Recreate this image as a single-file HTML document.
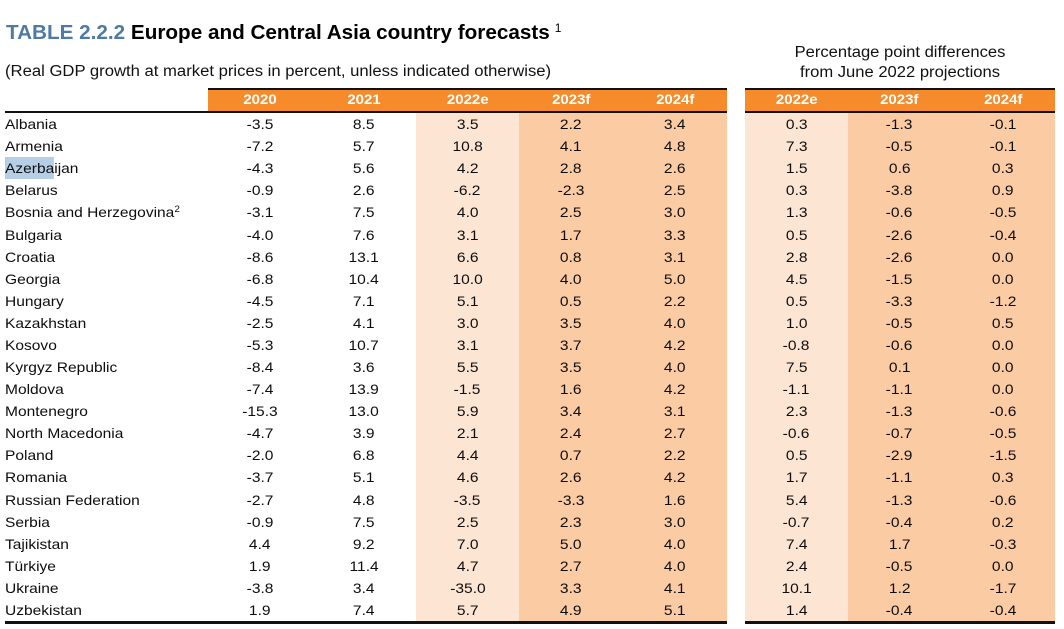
<!DOCTYPE html>
<html><head><meta charset="utf-8">
<style>
*{margin:0;padding:0;box-sizing:border-box}
html,body{width:1064px;height:629px;background:#fff;overflow:hidden;position:relative;font-family:"Liberation Sans",Arial,sans-serif;color:#111}
.abs{position:absolute}
.title{left:6px;top:21px;font-size:20.7px;font-weight:bold;white-space:nowrap;color:#000}
.title .b{color:#4f7aa2}
.title sup{font-size:12px;font-weight:normal;vertical-align:0;position:relative;top:-7px;margin-left:5px}
.sub{left:5px;top:63px;font-size:15.5px;white-space:nowrap;color:#111;transform:scaleX(1.075);transform-origin:left center}
.rh{left:745px;width:310px;text-align:center;font-size:15.5px;white-space:nowrap;color:#111;transform:scaleX(1.07);transform-origin:center center}
.bg{position:absolute}
.row{position:absolute;left:0;width:1064px;height:22px}
.c{position:absolute;top:0;height:22px;line-height:22px;text-align:center;font-size:14px;white-space:nowrap;color:#0d0d0d}
.c span,.h span,.n span{display:inline-block;transform:scaleX(1.11)}
.n{position:absolute;left:5px;top:0;height:22px;line-height:22px;font-size:14px;white-space:nowrap;color:#0d0d0d}
.n span{transform-origin:left center}
.h{position:absolute;top:89px;height:22px;line-height:22px;text-align:center;font-size:13.5px;font-weight:bold;color:#fff}
.hl{background:#b7cfe6}
.n sup{font-size:9px;vertical-align:0;position:relative;top:-5px}
.a{left:208px;width:104px}.b1{left:312px;width:104px}.d{left:416px;width:103px}.e{left:519px;width:104px}.f{left:623px;width:104px}
.g{left:745px;width:103px}.k{left:848px;width:103px}.m{left:951px;width:104px}
</style></head><body>
<div class="abs title"><span class="b">TABLE 2.2.2</span> Europe and Central Asia country forecasts<sup>1</sup></div>
<div class="abs sub">(Real GDP growth at market prices in percent, unless indicated otherwise)</div>
<div class="abs rh" style="top:44px">Percentage point differences</div>
<div class="abs rh" style="top:64px">from June 2022 projections</div>

<div class="bg" style="left:416px;top:113px;width:103px;height:508px;background:#fde5d3"></div>
<div class="bg" style="left:519px;top:113px;width:208px;height:508px;background:#fbcba3"></div>
<div class="bg" style="left:745px;top:113px;width:103px;height:508px;background:#fde5d3"></div>
<div class="bg" style="left:848px;top:113px;width:207px;height:508px;background:#fbcba3"></div>

<div class="bg" style="left:208px;top:89px;width:519px;height:22px;background:#f68b2c"></div>
<div class="bg" style="left:745px;top:89px;width:310px;height:22px;background:#f68b2c"></div>
<div class="bg" style="left:208px;top:87.5px;width:519px;height:2px;background:#111"></div>
<div class="bg" style="left:745px;top:87.5px;width:310px;height:2px;background:#111"></div>
<div class="bg" style="left:5px;top:111px;width:722px;height:2px;background:#111"></div>
<div class="bg" style="left:745px;top:111px;width:310px;height:2px;background:#111"></div>
<div class="bg" style="left:5px;top:620.5px;width:722px;height:3px;background:#111"></div>
<div class="bg" style="left:745px;top:620.5px;width:310px;height:3px;background:#111"></div>

<div class="h a"><span>2020</span></div>
<div class="h b1"><span>2021</span></div>
<div class="h d"><span>2022e</span></div>
<div class="h e"><span>2023f</span></div>
<div class="h f"><span>2024f</span></div>
<div class="h g"><span>2022e</span></div>
<div class="h k"><span>2023f</span></div>
<div class="h m"><span>2024f</span></div>

<div class="row" style="top:113.0px"><div class="n"><span>Albania</span></div><div class="c a"><span>-3.5</span></div><div class="c b1"><span>8.5</span></div><div class="c d"><span>3.5</span></div><div class="c e"><span>2.2</span></div><div class="c f"><span>3.4</span></div><div class="c g"><span>0.3</span></div><div class="c k"><span>-1.3</span></div><div class="c m"><span>-0.1</span></div></div>
<div class="row" style="top:135.1px"><div class="n"><span>Armenia</span></div><div class="c a"><span>-7.2</span></div><div class="c b1"><span>5.7</span></div><div class="c d"><span>10.8</span></div><div class="c e"><span>4.1</span></div><div class="c f"><span>4.8</span></div><div class="c g"><span>7.3</span></div><div class="c k"><span>-0.5</span></div><div class="c m"><span>-0.1</span></div></div>
<div class="row" style="top:157.2px"><div class="n"><span><span class="hl" style="transform:none">Azerba</span>ijan</span></div><div class="c a"><span>-4.3</span></div><div class="c b1"><span>5.6</span></div><div class="c d"><span>4.2</span></div><div class="c e"><span>2.8</span></div><div class="c f"><span>2.6</span></div><div class="c g"><span>1.5</span></div><div class="c k"><span>0.6</span></div><div class="c m"><span>0.3</span></div></div>
<div class="row" style="top:179.3px"><div class="n"><span>Belarus</span></div><div class="c a"><span>-0.9</span></div><div class="c b1"><span>2.6</span></div><div class="c d"><span>-6.2</span></div><div class="c e"><span>-2.3</span></div><div class="c f"><span>2.5</span></div><div class="c g"><span>0.3</span></div><div class="c k"><span>-3.8</span></div><div class="c m"><span>0.9</span></div></div>
<div class="row" style="top:201.4px"><div class="n"><span>Bosnia and Herzegovina<sup>2</sup></span></div><div class="c a"><span>-3.1</span></div><div class="c b1"><span>7.5</span></div><div class="c d"><span>4.0</span></div><div class="c e"><span>2.5</span></div><div class="c f"><span>3.0</span></div><div class="c g"><span>1.3</span></div><div class="c k"><span>-0.6</span></div><div class="c m"><span>-0.5</span></div></div>
<div class="row" style="top:223.5px"><div class="n"><span>Bulgaria</span></div><div class="c a"><span>-4.0</span></div><div class="c b1"><span>7.6</span></div><div class="c d"><span>3.1</span></div><div class="c e"><span>1.7</span></div><div class="c f"><span>3.3</span></div><div class="c g"><span>0.5</span></div><div class="c k"><span>-2.6</span></div><div class="c m"><span>-0.4</span></div></div>
<div class="row" style="top:245.5px"><div class="n"><span>Croatia</span></div><div class="c a"><span>-8.6</span></div><div class="c b1"><span>13.1</span></div><div class="c d"><span>6.6</span></div><div class="c e"><span>0.8</span></div><div class="c f"><span>3.1</span></div><div class="c g"><span>2.8</span></div><div class="c k"><span>-2.6</span></div><div class="c m"><span>0.0</span></div></div>
<div class="row" style="top:267.6px"><div class="n"><span>Georgia</span></div><div class="c a"><span>-6.8</span></div><div class="c b1"><span>10.4</span></div><div class="c d"><span>10.0</span></div><div class="c e"><span>4.0</span></div><div class="c f"><span>5.0</span></div><div class="c g"><span>4.5</span></div><div class="c k"><span>-1.5</span></div><div class="c m"><span>0.0</span></div></div>
<div class="row" style="top:289.7px"><div class="n"><span>Hungary</span></div><div class="c a"><span>-4.5</span></div><div class="c b1"><span>7.1</span></div><div class="c d"><span>5.1</span></div><div class="c e"><span>0.5</span></div><div class="c f"><span>2.2</span></div><div class="c g"><span>0.5</span></div><div class="c k"><span>-3.3</span></div><div class="c m"><span>-1.2</span></div></div>
<div class="row" style="top:311.8px"><div class="n"><span>Kazakhstan</span></div><div class="c a"><span>-2.5</span></div><div class="c b1"><span>4.1</span></div><div class="c d"><span>3.0</span></div><div class="c e"><span>3.5</span></div><div class="c f"><span>4.0</span></div><div class="c g"><span>1.0</span></div><div class="c k"><span>-0.5</span></div><div class="c m"><span>0.5</span></div></div>
<div class="row" style="top:333.9px"><div class="n"><span>Kosovo</span></div><div class="c a"><span>-5.3</span></div><div class="c b1"><span>10.7</span></div><div class="c d"><span>3.1</span></div><div class="c e"><span>3.7</span></div><div class="c f"><span>4.2</span></div><div class="c g"><span>-0.8</span></div><div class="c k"><span>-0.6</span></div><div class="c m"><span>0.0</span></div></div>
<div class="row" style="top:356.0px"><div class="n"><span>Kyrgyz Republic</span></div><div class="c a"><span>-8.4</span></div><div class="c b1"><span>3.6</span></div><div class="c d"><span>5.5</span></div><div class="c e"><span>3.5</span></div><div class="c f"><span>4.0</span></div><div class="c g"><span>7.5</span></div><div class="c k"><span>0.1</span></div><div class="c m"><span>0.0</span></div></div>
<div class="row" style="top:378.1px"><div class="n"><span>Moldova</span></div><div class="c a"><span>-7.4</span></div><div class="c b1"><span>13.9</span></div><div class="c d"><span>-1.5</span></div><div class="c e"><span>1.6</span></div><div class="c f"><span>4.2</span></div><div class="c g"><span>-1.1</span></div><div class="c k"><span>-1.1</span></div><div class="c m"><span>0.0</span></div></div>
<div class="row" style="top:400.2px"><div class="n"><span>Montenegro</span></div><div class="c a"><span>-15.3</span></div><div class="c b1"><span>13.0</span></div><div class="c d"><span>5.9</span></div><div class="c e"><span>3.4</span></div><div class="c f"><span>3.1</span></div><div class="c g"><span>2.3</span></div><div class="c k"><span>-1.3</span></div><div class="c m"><span>-0.6</span></div></div>
<div class="row" style="top:422.3px"><div class="n"><span>North Macedonia</span></div><div class="c a"><span>-4.7</span></div><div class="c b1"><span>3.9</span></div><div class="c d"><span>2.1</span></div><div class="c e"><span>2.4</span></div><div class="c f"><span>2.7</span></div><div class="c g"><span>-0.6</span></div><div class="c k"><span>-0.7</span></div><div class="c m"><span>-0.5</span></div></div>
<div class="row" style="top:444.4px"><div class="n"><span>Poland</span></div><div class="c a"><span>-2.0</span></div><div class="c b1"><span>6.8</span></div><div class="c d"><span>4.4</span></div><div class="c e"><span>0.7</span></div><div class="c f"><span>2.2</span></div><div class="c g"><span>0.5</span></div><div class="c k"><span>-2.9</span></div><div class="c m"><span>-1.5</span></div></div>
<div class="row" style="top:466.4px"><div class="n"><span>Romania</span></div><div class="c a"><span>-3.7</span></div><div class="c b1"><span>5.1</span></div><div class="c d"><span>4.6</span></div><div class="c e"><span>2.6</span></div><div class="c f"><span>4.2</span></div><div class="c g"><span>1.7</span></div><div class="c k"><span>-1.1</span></div><div class="c m"><span>0.3</span></div></div>
<div class="row" style="top:488.5px"><div class="n"><span>Russian Federation</span></div><div class="c a"><span>-2.7</span></div><div class="c b1"><span>4.8</span></div><div class="c d"><span>-3.5</span></div><div class="c e"><span>-3.3</span></div><div class="c f"><span>1.6</span></div><div class="c g"><span>5.4</span></div><div class="c k"><span>-1.3</span></div><div class="c m"><span>-0.6</span></div></div>
<div class="row" style="top:510.6px"><div class="n"><span>Serbia</span></div><div class="c a"><span>-0.9</span></div><div class="c b1"><span>7.5</span></div><div class="c d"><span>2.5</span></div><div class="c e"><span>2.3</span></div><div class="c f"><span>3.0</span></div><div class="c g"><span>-0.7</span></div><div class="c k"><span>-0.4</span></div><div class="c m"><span>0.2</span></div></div>
<div class="row" style="top:532.7px"><div class="n"><span>Tajikistan</span></div><div class="c a"><span>4.4</span></div><div class="c b1"><span>9.2</span></div><div class="c d"><span>7.0</span></div><div class="c e"><span>5.0</span></div><div class="c f"><span>4.0</span></div><div class="c g"><span>7.4</span></div><div class="c k"><span>1.7</span></div><div class="c m"><span>-0.3</span></div></div>
<div class="row" style="top:554.8px"><div class="n"><span>Türkiye</span></div><div class="c a"><span>1.9</span></div><div class="c b1"><span>11.4</span></div><div class="c d"><span>4.7</span></div><div class="c e"><span>2.7</span></div><div class="c f"><span>4.0</span></div><div class="c g"><span>2.4</span></div><div class="c k"><span>-0.5</span></div><div class="c m"><span>0.0</span></div></div>
<div class="row" style="top:576.9px"><div class="n"><span>Ukraine</span></div><div class="c a"><span>-3.8</span></div><div class="c b1"><span>3.4</span></div><div class="c d"><span>-35.0</span></div><div class="c e"><span>3.3</span></div><div class="c f"><span>4.1</span></div><div class="c g"><span>10.1</span></div><div class="c k"><span>1.2</span></div><div class="c m"><span>-1.7</span></div></div>
<div class="row" style="top:599.0px"><div class="n"><span>Uzbekistan</span></div><div class="c a"><span>1.9</span></div><div class="c b1"><span>7.4</span></div><div class="c d"><span>5.7</span></div><div class="c e"><span>4.9</span></div><div class="c f"><span>5.1</span></div><div class="c g"><span>1.4</span></div><div class="c k"><span>-0.4</span></div><div class="c m"><span>-0.4</span></div></div>
</body></html>
